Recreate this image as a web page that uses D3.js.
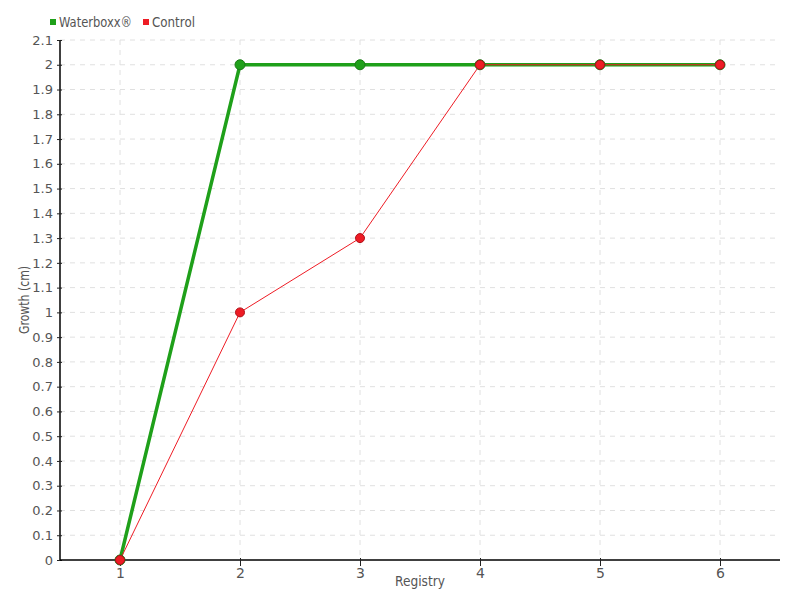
<!DOCTYPE html>
<html>
<head>
<meta charset="utf-8">
<script src="https://cdn.jsdelivr.net/npm/d3@7"></script>
<style>
  body { margin: 0; background: #fff; }
  text { font-family: "Liberation Sans Narrow", "DejaVu Sans", sans-serif; fill: #555; }
</style>
</head>
<body>
<div id="main"></div>
<script>
(function() {
  const registry = [1, 2, 3, 4, 5, 6];
  const waterboxx = [0, 2, 2, 2, 2, 2];
  const control = [0, 1, 1.3, 2, 2, 2];
  const yTicks = d3.range(0, 22).map(i => i / 10);

  const series = [
    { name: "Waterboxx®", values: waterboxx, color: "#1fa01a", stroke: "#1a7a16", width: 3.5, r: 5, labelLen: 73 },
    { name: "Control", values: control, color: "#ee1c25", stroke: "#b01018", width: 1, r: 4.5, labelLen: 43 }
  ];

  const width = 800, height = 600;
  const margin = { top: 40, right: 20, bottom: 40, left: 60 };

  const x = d3.scaleLinear().domain([0.5, 6.5]).range([margin.left, width - margin.right]);
  const y = d3.scaleLinear().domain([0, 2.1]).range([height - margin.bottom, margin.top]);

  const svg = d3.select("#main").append("svg")
    .attr("width", width)
    .attr("height", height);

  // grid
  svg.append("g")
    .selectAll("line")
    .data(yTicks.filter(d => d > 0))
    .join("line")
    .attr("x1", margin.left)
    .attr("x2", width - margin.right)
    .attr("y1", d => y(d))
    .attr("y2", d => y(d))
    .attr("stroke", "#e0e0e0")
    .attr("stroke-dasharray", "5,5");

  svg.append("g")
    .selectAll("line")
    .data(registry)
    .join("line")
    .attr("x1", d => x(d))
    .attr("x2", d => x(d))
    .attr("y1", margin.top)
    .attr("y2", height - margin.bottom)
    .attr("stroke", "#e0e0e0")
    .attr("stroke-dasharray", "5,5");

  // axes
  const yAxis = svg.append("g")
    .attr("transform", `translate(${margin.left},0)`)
    .call(d3.axisLeft(y).tickValues(yTicks).tickFormat(d => d3.format("~g")(+d.toFixed(1))).tickSize(4).tickPadding(3));
  yAxis.selectAll(".tick line").attr("x2", 2).attr("x1", -3).attr("stroke", "#222");
  yAxis.select(".domain").attr("d", `M0,${y(2.1)}V${y(0)}`).attr("stroke", "#000").attr("stroke-width", 1.5);
  yAxis.selectAll("text").style("font-size", "13px").attr("fill", "#555");

  const xAxis = svg.append("g")
    .attr("transform", `translate(0,${height - margin.bottom})`)
    .call(d3.axisBottom(x).tickValues(registry).tickFormat(d3.format("d")).tickSize(6).tickPadding(2));
  xAxis.selectAll(".tick line").attr("y1", -2).attr("stroke", "#222");
  xAxis.select(".domain").attr("d", `M${margin.left},0H${width - margin.right}`).attr("stroke", "#000").attr("stroke-width", 1.5);
  xAxis.selectAll("text").style("font-size", "14px").attr("fill", "#555");

  // axis titles
  svg.append("text")
    .attr("x", x(3.5))
    .attr("y", 586)
    .attr("text-anchor", "middle")
    .attr("textLength", 50)
    .attr("lengthAdjust", "spacingAndGlyphs")
    .style("font-size", "14px")
    .text("Registry");

  svg.append("text")
    .attr("transform", `translate(29,${y(1.05)}) rotate(-90)`)
    .attr("text-anchor", "middle")
    .attr("textLength", 68)
    .attr("lengthAdjust", "spacingAndGlyphs")
    .style("font-size", "14px")
    .text("Growth (cm)");

  // lines and points
  const line = d3.line()
    .x((d, i) => x(registry[i]))
    .y(d => y(d));

  series.forEach(s => {
    svg.append("path")
      .datum(s.values)
      .attr("fill", "none")
      .attr("stroke", s.color)
      .attr("stroke-width", s.width)
      .attr("d", line);
  });

  series.forEach(s => {
    svg.append("g")
      .selectAll("circle")
      .data(s.values)
      .join("circle")
      .attr("cx", (d, i) => x(registry[i]))
      .attr("cy", d => y(d))
      .attr("r", s.r)
      .attr("fill", s.color)
      .attr("stroke", s.stroke)
      .attr("stroke-width", 1);
  });

  // legend
  const legend = svg.append("g");
  let lx = 50;
  series.forEach(s => {
    legend.append("rect")
      .attr("x", lx)
      .attr("y", 19)
      .attr("width", 6)
      .attr("height", 6)
      .attr("fill", s.color);
    legend.append("text")
      .attr("x", lx + 9)
      .attr("y", 27)
      .attr("textLength", s.labelLen)
      .attr("lengthAdjust", "spacingAndGlyphs")
      .style("font-size", "14px")
      .text(s.name);
    lx += 9 + s.labelLen + 11;
  });
})();
</script>
</body>
</html>
